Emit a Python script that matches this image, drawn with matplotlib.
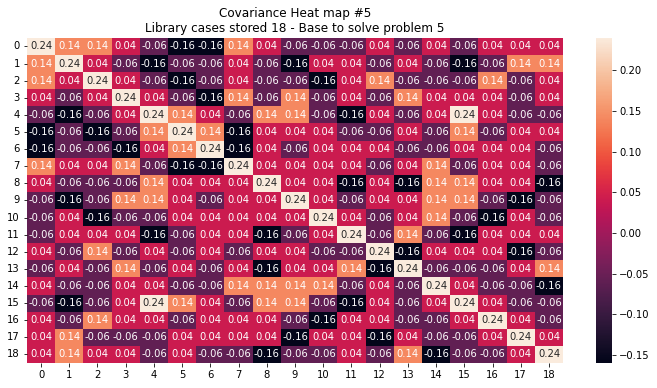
import matplotlib
matplotlib.use("Agg")
import matplotlib.pyplot as plt
import seaborn as sns
import numpy as np

labels = list(range(19))

row_00 = [0.24, 0.14, 0.14, 0.04, -0.06, -0.16, -0.16, 0.14, 0.04, -0.06, -0.06, -0.06, 0.04, -0.06, 0.04, -0.06, 0.04, 0.04, 0.04]
row_01 = [0.14, 0.24, 0.04, -0.06, -0.16, -0.06, -0.06, 0.04, -0.06, -0.16, 0.04, 0.04, -0.06, 0.04, -0.06, -0.16, -0.06, 0.14, 0.14]
row_02 = [0.14, 0.04, 0.24, 0.04, -0.06, -0.16, -0.06, 0.04, -0.06, -0.06, -0.16, 0.04, 0.14, -0.06, -0.06, -0.06, 0.14, -0.06, 0.04]
row_03 = [0.04, -0.06, 0.04, 0.24, 0.04, -0.06, -0.16, 0.14, -0.06, 0.14, -0.06, 0.04, -0.06, 0.14, 0.04, 0.04, 0.04, -0.06, 0.04]
row_04 = [-0.06, -0.16, -0.06, 0.04, 0.24, 0.14, 0.04, -0.06, 0.14, 0.14, -0.06, -0.16, 0.04, -0.06, 0.04, 0.24, 0.04, -0.06, -0.06]
row_05 = [-0.16, -0.06, -0.16, -0.06, 0.14, 0.24, 0.14, -0.16, 0.04, 0.04, 0.04, -0.06, -0.06, 0.04, -0.06, 0.14, -0.06, 0.04, 0.04]
row_06 = [-0.16, -0.06, -0.06, -0.16, 0.04, 0.14, 0.24, -0.16, 0.04, -0.06, 0.04, 0.04, 0.04, -0.06, -0.06, 0.04, 0.04, 0.04, -0.06]
row_07 = [0.14, 0.04, 0.04, 0.14, -0.06, -0.16, -0.16, 0.24, 0.04, 0.04, 0.04, 0.04, -0.06, 0.04, 0.14, -0.06, 0.04, 0.04, -0.06]
row_08 = [0.04, -0.06, -0.06, -0.06, 0.14, 0.04, 0.04, 0.04, 0.24, 0.04, 0.04, -0.16, 0.04, -0.16, 0.14, 0.14, 0.04, 0.04, -0.16]
row_09 = [-0.06, -0.16, -0.06, 0.14, 0.14, 0.04, -0.06, 0.04, 0.04, 0.24, 0.04, -0.06, 0.04, 0.04, 0.14, 0.14, -0.06, -0.16, -0.06]
row_10 = [-0.06, 0.04, -0.16, -0.06, -0.06, 0.04, 0.04, 0.04, 0.04, 0.04, 0.24, 0.04, -0.06, 0.04, 0.14, -0.06, -0.16, 0.04, -0.06]
row_11 = [-0.06, 0.04, 0.04, 0.04, -0.16, -0.06, 0.04, 0.04, -0.16, -0.06, 0.04, 0.24, -0.06, 0.14, -0.06, -0.16, 0.04, 0.04, 0.04]
row_12 = [0.04, -0.06, 0.14, -0.06, 0.04, -0.06, 0.04, -0.06, 0.04, 0.04, -0.06, -0.06, 0.24, -0.16, 0.04, 0.04, 0.04, -0.16, -0.06]
row_13 = [-0.06, 0.04, -0.06, 0.14, -0.06, 0.04, -0.06, 0.04, -0.16, 0.04, 0.04, 0.14, -0.16, 0.24, -0.06, -0.06, -0.06, 0.04, 0.14]
row_14 = [0.04, -0.06, -0.06, 0.04, 0.04, -0.06, -0.06, 0.14, 0.14, 0.14, 0.14, -0.06, 0.04, -0.06, 0.24, 0.04, -0.06, -0.06, -0.16]
row_15 = [-0.06, -0.16, -0.06, 0.04, 0.24, 0.14, 0.04, -0.06, 0.14, 0.14, -0.06, -0.16, 0.04, -0.06, 0.04, 0.24, 0.04, -0.06, -0.06]
row_16 = [0.04, -0.06, 0.14, 0.04, 0.04, -0.06, 0.04, 0.04, 0.04, -0.06, -0.16, 0.04, 0.04, -0.06, -0.06, 0.04, 0.24, 0.04, -0.06]
row_17 = [0.04, 0.14, -0.06, -0.06, -0.06, 0.04, 0.04, 0.04, 0.04, -0.16, 0.04, 0.04, -0.16, 0.04, -0.06, -0.06, 0.04, 0.24, 0.04]
row_18 = [0.04, 0.14, 0.04, 0.04, -0.06, 0.04, -0.06, -0.06, -0.16, -0.06, -0.06, 0.04, -0.06, 0.14, -0.16, -0.06, -0.06, 0.04, 0.24]

cov = np.array([row_00, row_01, row_02, row_03, row_04, row_05, row_06, row_07, row_08, row_09,
                row_10, row_11, row_12, row_13, row_14, row_15, row_16, row_17, row_18])

fig = plt.figure(figsize=(657 / 72, 388 / 72), dpi=72)
ax = fig.add_axes([0.041, 0.0644, 0.816, 0.838])
cax = fig.add_axes([0.907, 0.0644, 0.0244, 0.838])

sns.heatmap(cov, annot=True, fmt='.2f', ax=ax, cbar_ax=cax,
            xticklabels=labels, yticklabels=labels, annot_kws={'size': 10})
ax.set_yticklabels(ax.get_yticklabels(), rotation=0)
ax.set_title("Covariance Heat map #5\nLibrary cases stored 18 - Base to solve problem 5", fontsize=12)

fig.savefig("out.png", dpi=72)
